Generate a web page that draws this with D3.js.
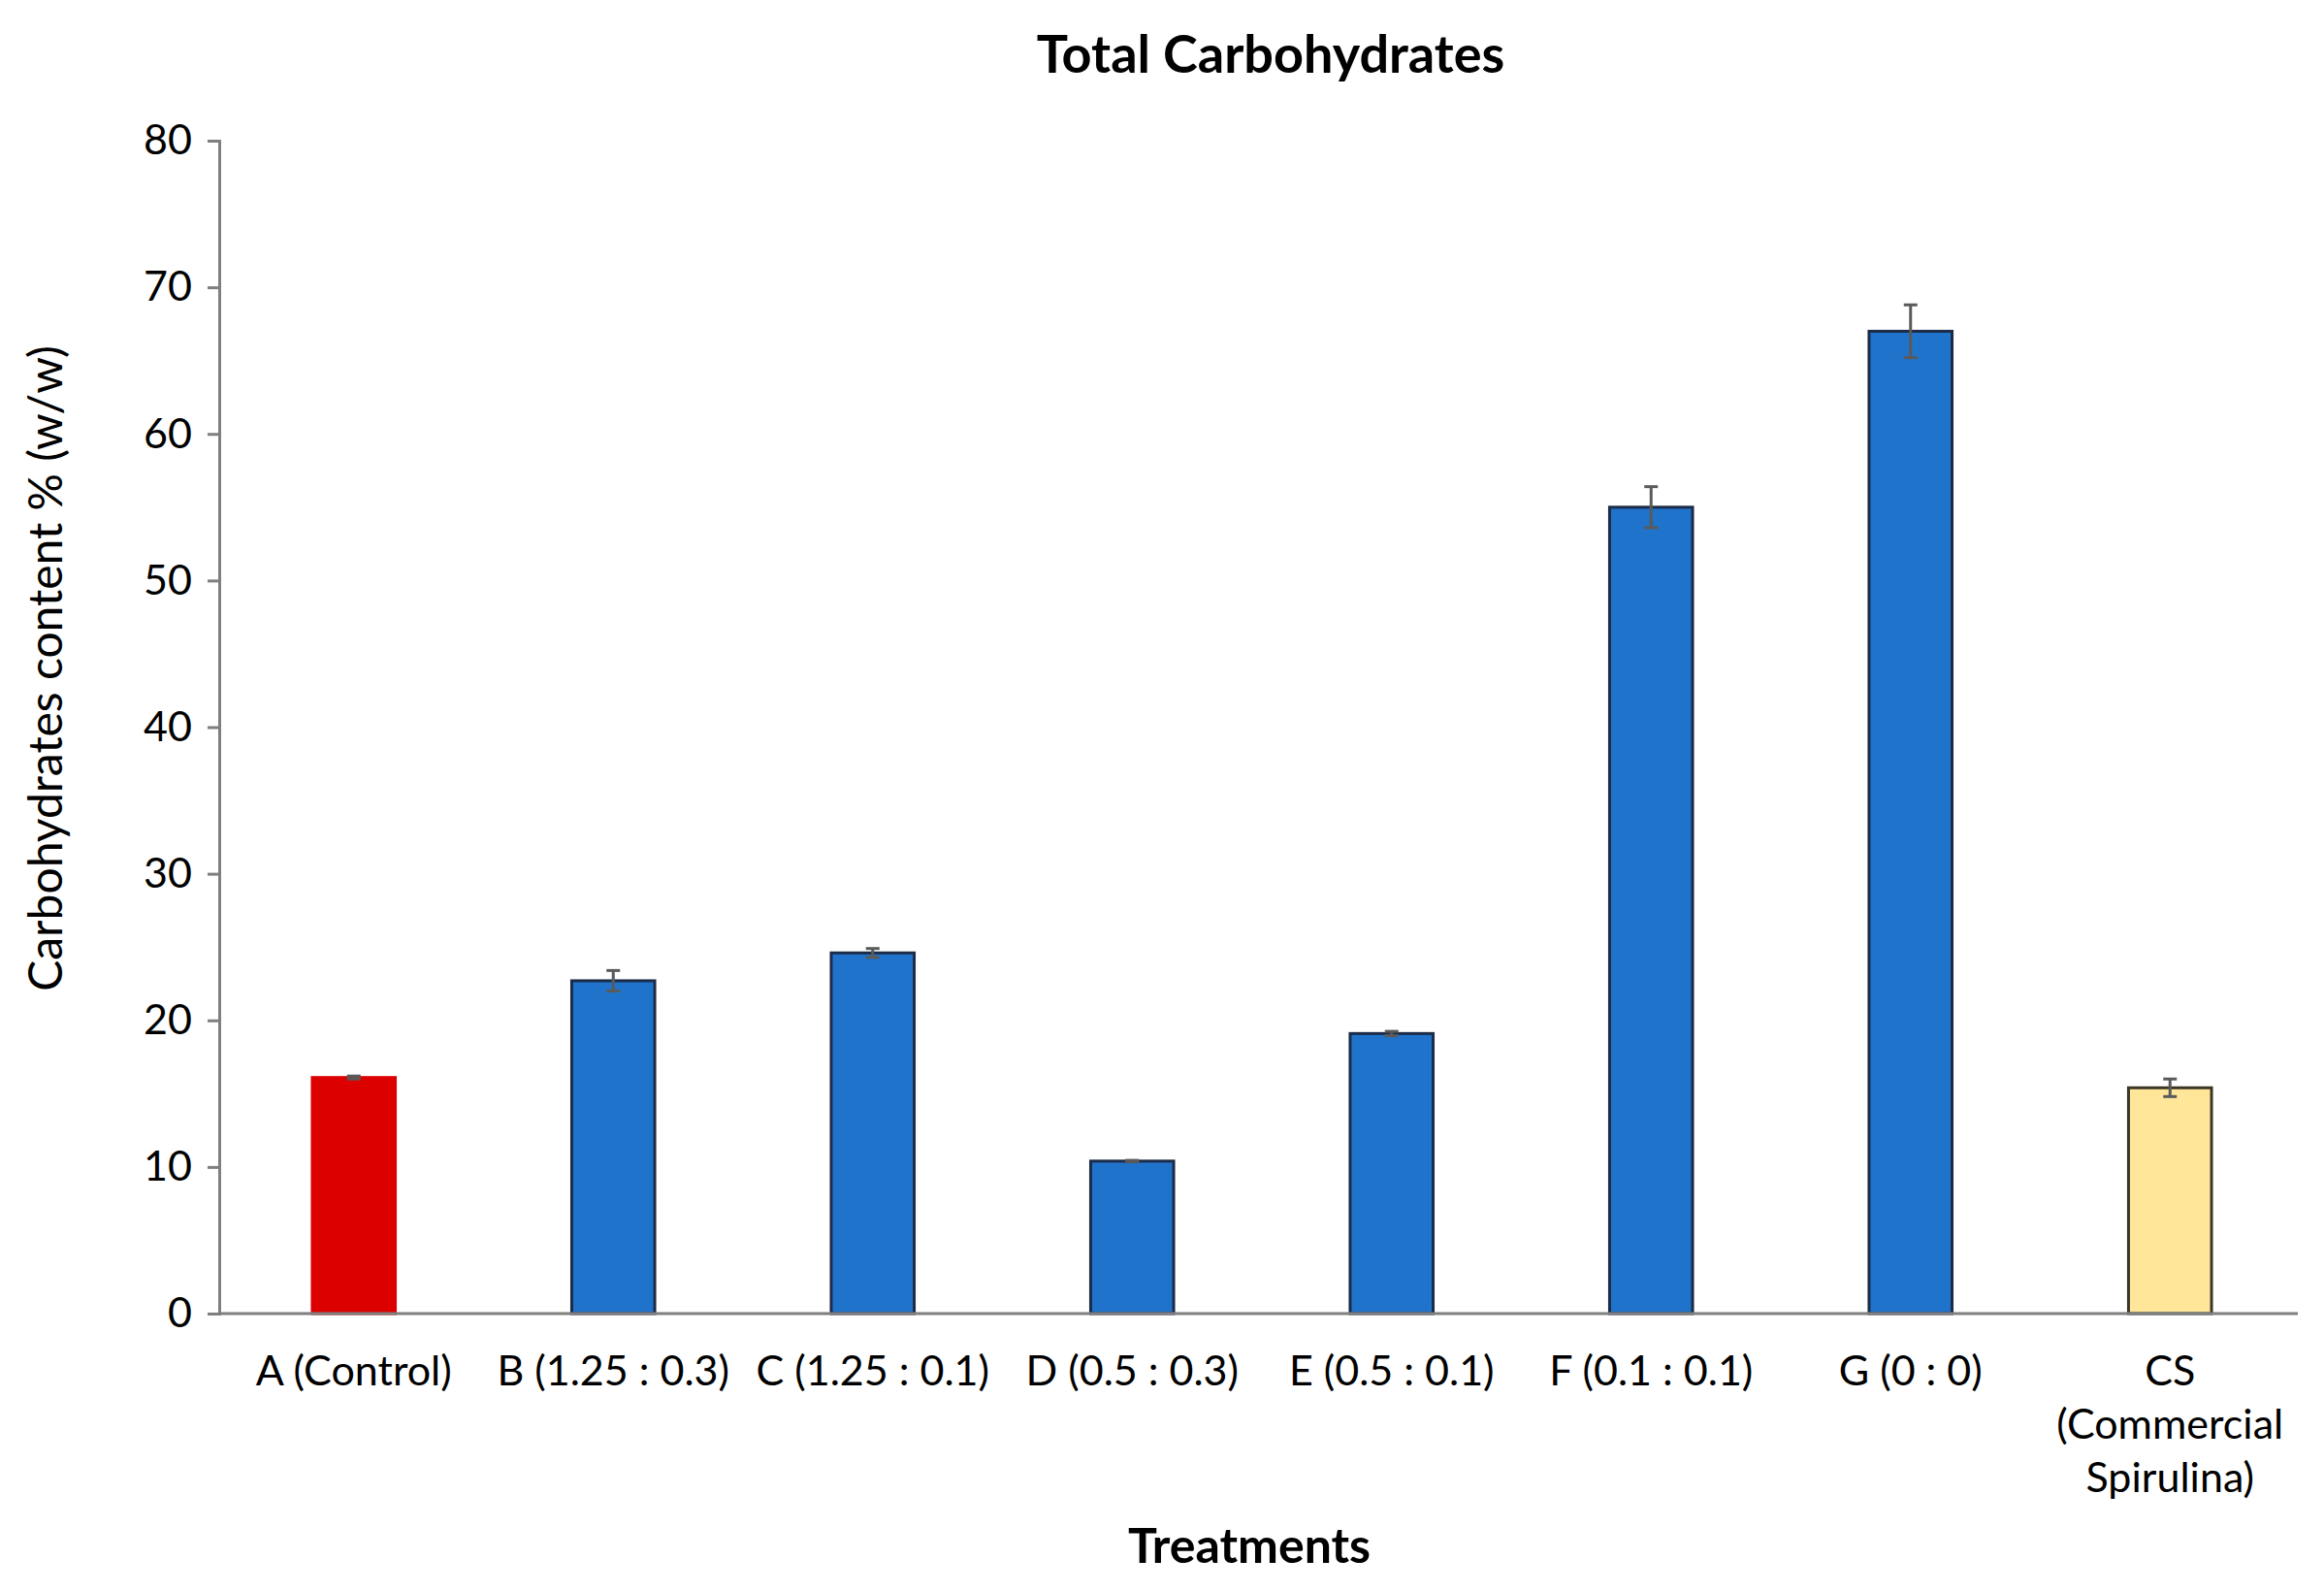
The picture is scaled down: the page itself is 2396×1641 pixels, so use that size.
<!doctype html>
<html lang="en">
<head>
<script src="https://d3js.org/d3.v7.min.js"></script>
<style>
  body { margin: 0; background: #fff; }
  text { font-family: Lato, "Liberation Sans", Arial, sans-serif; fill: #000; }
  .tick-label { font-size: 43px; }
  .axis-line { stroke: #7f7f7f; stroke-width: 3; }
  .err { stroke: #5a5a5a; stroke-width: 3; }
</style>
</head>
<body>
<div id="chart"></div>
<script>
  // data
  let categories = ["A (Control)", "B (1.25 : 0.3)", "C (1.25 : 0.1)", "D (0.5 : 0.3)",
                    "E (0.5 : 0.1)", "F (0.1 : 0.1)", "G (0 : 0)", "CS\n(Commercial\nSpirulina)"];
  let values = [16.1, 22.7, 24.6, 10.4, 19.1, 55.0, 67.0, 15.4];
  let errors = [0.1, 0.7, 0.3, 0.05, 0.15, 1.4, 1.8, 0.6];
  let fills = ["#dd0000", "#1f73cb", "#1f73cb", "#1f73cb", "#1f73cb", "#1f73cb", "#1f73cb", "#ffe699"];
  let strokes = ["#dd0000", "#1c2c48", "#1c2c48", "#1c2c48", "#1c2c48", "#1c2c48", "#1c2c48", "#3b3626"];
  let yTicks = [0, 10, 20, 30, 40, 50, 60, 70, 80];

  let W = 2396, H = 1641;
  let margin = {top: 145, right: 27, bottom: 287, left: 226},
      width = W - margin.left - margin.right,
      height = H - margin.top - margin.bottom;

  let root = d3.select("#chart").append("svg")
      .attr("width", W).attr("height", H);

  let svg = root.append("g")
      .attr("transform", "translate(" + margin.left + "," + margin.top + ")");

  let xScale = d3.scaleBand().domain(categories).range([5, width + 2]).paddingInner(0.68).paddingOuter(0.34);
  let yScale = d3.scaleLinear().domain([0, 80]).range([height, 0]);

  // y axis
  let yAxis = svg.append("g")
      .call(d3.axisLeft(yScale).tickValues(yTicks).tickSize(12).tickPadding(16));
  yAxis.select(".domain").attr("class", "axis-line");
  yAxis.selectAll(".tick line").attr("stroke", "#7f7f7f").attr("stroke-width", 3);
  yAxis.selectAll(".tick text").attr("class", "tick-label").attr("fill", "#000");
  yAxis.attr("font-size", null).attr("font-family", null);

  // bars
  let bw = xScale.bandwidth();
  svg.selectAll(".bar").data(values).enter().append("rect")
      .attr("class", "bar")
      .attr("x", (d, i) => xScale(categories[i]))
      .attr("y", d => yScale(d))
      .attr("width", bw)
      .attr("height", d => height - yScale(d))
      .attr("fill", (d, i) => fills[i])
      .attr("stroke", (d, i) => strokes[i])
      .attr("stroke-width", 3);

  // error bars
  let eg = svg.selectAll(".errbar").data(values).enter().append("g").attr("class", "errbar");
  eg.append("line").attr("class", "err")
      .attr("x1", (d, i) => xScale(categories[i]) + bw / 2)
      .attr("x2", (d, i) => xScale(categories[i]) + bw / 2)
      .attr("y1", (d, i) => yScale(d + errors[i]))
      .attr("y2", (d, i) => yScale(d - errors[i]));
  [1, -1].forEach(function(s) {
    eg.append("line").attr("class", "err")
        .attr("x1", (d, i) => xScale(categories[i]) + bw / 2 - 7)
        .attr("x2", (d, i) => xScale(categories[i]) + bw / 2 + 7)
        .attr("y1", (d, i) => yScale(d + s * errors[i]))
        .attr("y2", (d, i) => yScale(d + s * errors[i]));
  });

  // x axis
  let xAxis = svg.append("g")
      .attr("transform", "translate(0," + height + ")")
      .call(d3.axisBottom(xScale).tickSize(0).tickFormat(""));
  xAxis.select(".domain").attr("class", "axis-line").attr("d", "M0,0H" + width);

  // category labels, multiline
  svg.selectAll(".cat").data(categories).enter().append("text")
      .attr("class", "tick-label")
      .attr("text-anchor", "middle")
      .attr("transform", d => "translate(" + (xScale(d) + bw / 2) + "," + (height + 74) + ")")
      .each(function(d) {
        let lines = d.split("\n");
        let t = d3.select(this);
        lines.forEach(function(l, k) {
          t.append("tspan").attr("x", 0).attr("dy", k === 0 ? 0 : 55).text(l);
        });
      });

  // titles
  root.append("text")
      .attr("x", 1310).attr("y", 75)
      .attr("text-anchor", "middle")
      .attr("font-size", 54).attr("font-weight", "bold")
      .text("Total Carbohydrates");

  root.append("text")
      .attr("x", 1288).attr("y", 1611)
      .attr("text-anchor", "middle")
      .attr("font-size", 50).attr("font-weight", "bold")
      .text("Treatments");

  root.append("text")
      .attr("transform", "translate(64," + (margin.top + height * 0.45) + ") rotate(-90)")
      .attr("text-anchor", "middle")
      .attr("font-size", 48)
      .text("Carbohydrates content % (w/w)");
</script>
</body>
</html>
